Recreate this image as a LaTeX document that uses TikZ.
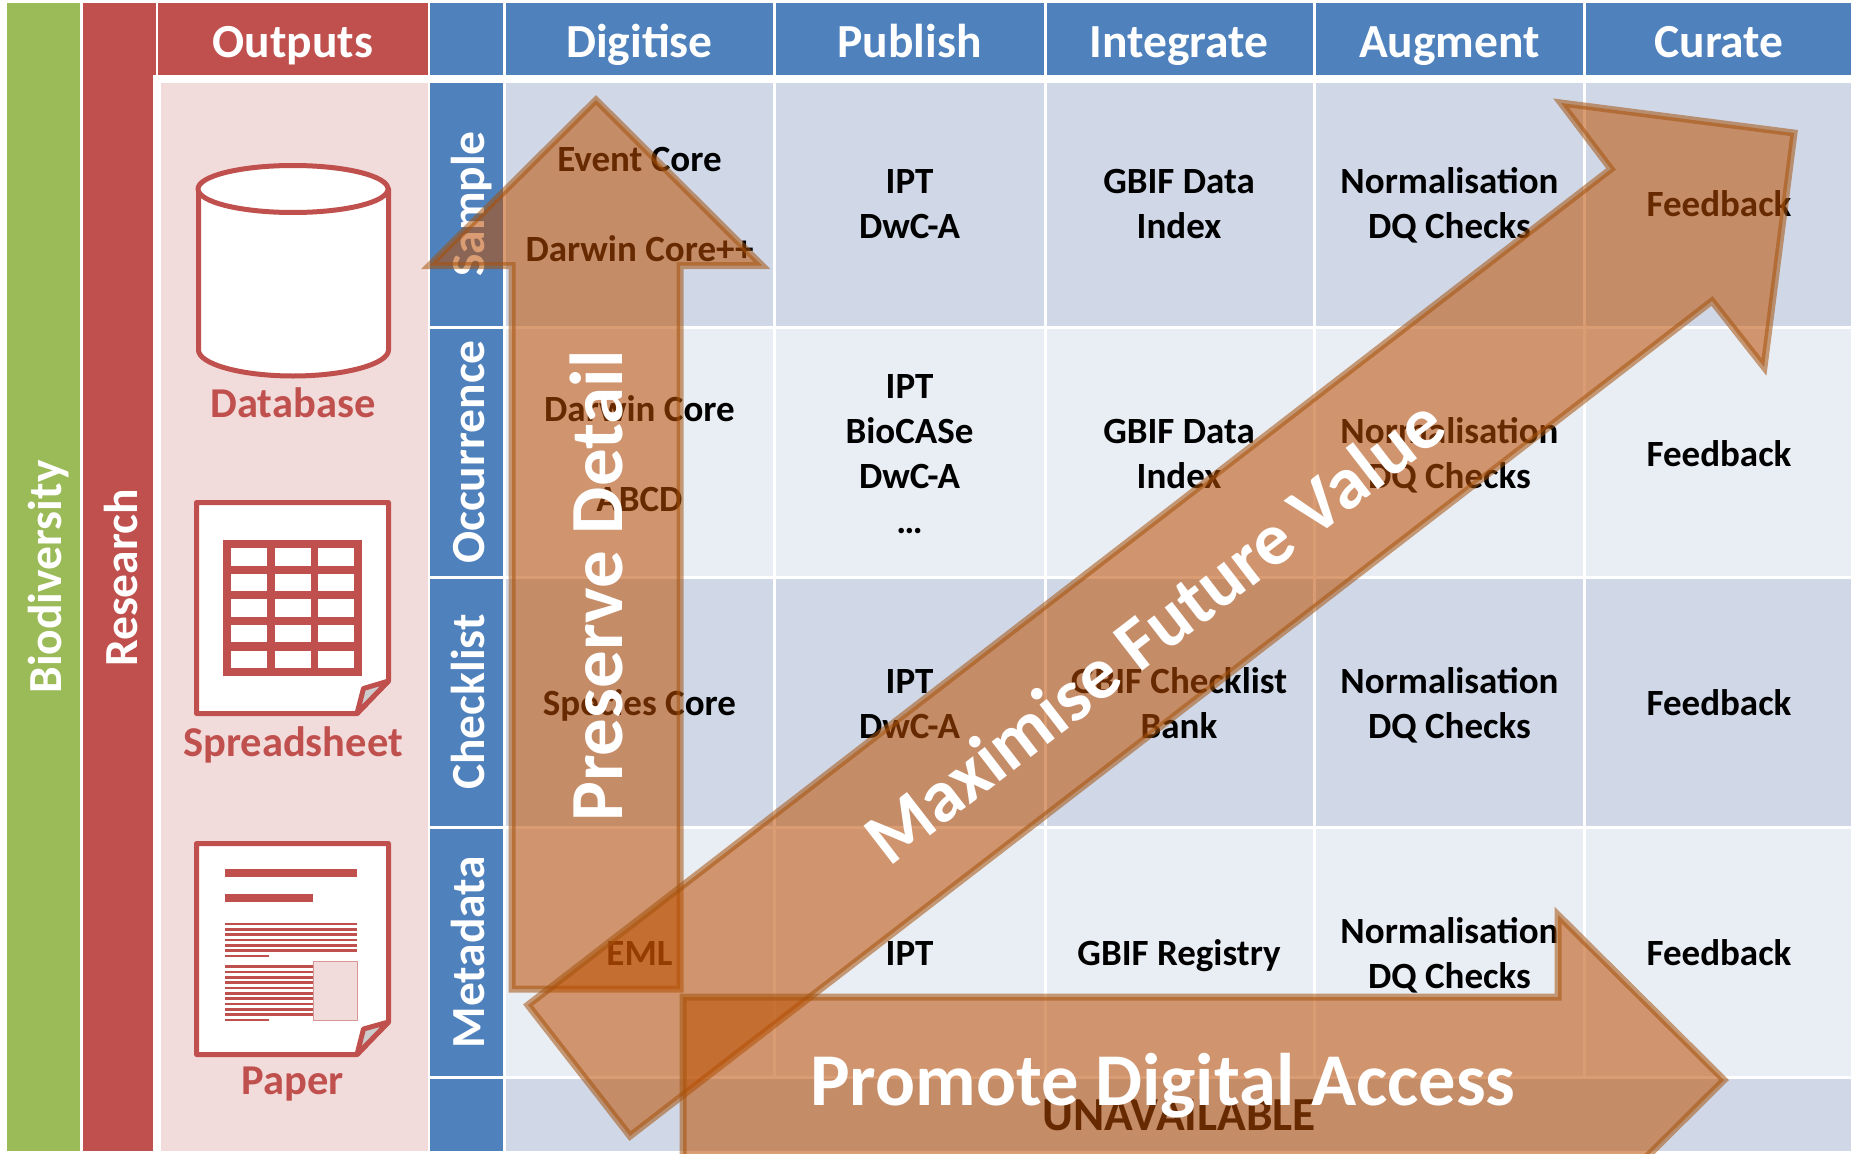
\documentclass[tikz,border=0pt]{standalone}
\usepackage{fontspec}
\setmainfont{Carlito}
\definecolor{cblue}{HTML}{4F81BD}
\definecolor{cred}{HTML}{C0504D}
\definecolor{cgreen}{HTML}{9BBB59}
\definecolor{cpink}{HTML}{F2DCDB}
\definecolor{rowa}{HTML}{D0D8E8}
\definecolor{rowb}{HTML}{E9EDF4}
\definecolor{afill}{HTML}{BC4E00}
\definecolor{aline}{HTML}{A4520C}
\definecolor{foldgray}{HTML}{CCCCCC}
\definecolor{imgline}{HTML}{D99694}
\tikzset{
  hdr/.style={text=white,anchor=base,font=\bfseries\fontsize{47.5}{50}\selectfont,inner sep=0pt},
  side/.style={text=white,rotate=90,anchor=base,font=\bfseries\fontsize{47.5}{50}\selectfont,inner sep=0pt},
  cell/.style={text=black,align=center,font=\bfseries\fontsize{37}{45}\selectfont,inner sep=0pt},
  iconlabel/.style={text=cred,anchor=base,font=\bfseries\fontsize{42.5}{45}\selectfont,inner sep=0pt},
  arrowshape/.style={fill=afill,draw=aline,fill opacity=.55,draw opacity=.55,line width=7pt,miter limit=10},
  arrowtext/.style={text=white,inner sep=0pt},
  icon/.style={draw=cred,fill=white,line width=5pt,line join=round},
  foldmark/.style={draw=cred,fill=foldgray,line width=5pt,line join=round},
  redbar/.style={fill=cred},
}
\begin{document}
\begin{tikzpicture}[x=1pt,y=-1pt]
\useasboundingbox (0,0) rectangle (1851,1153);
\fill[white] (0,0) rectangle (1851,1153);
% side bands
\fill[cgreen] (7,3) rectangle (80,1151);
\fill[cred] (83,3) rectangle (156,75);
\fill[cred] (83,75) rectangle (153,1151);
\fill[cred] (158,3) rectangle (428,75);
\fill[cpink] (161,83) rectangle (428,1151);
% header blues
\foreach \a/\b in {430/503,506/773,775.5/1044,1046.5/1313,1315.5/1583,1585.5/1851}{
  \fill[cblue] (\a,3) rectangle (\b,75);
}
% row labels and cells
\foreach \t/\u in {83/326,328.5/576,578.5/826,828.5/1076,1078.5/1151}{
  \fill[cblue] (430,\t) rectangle (503,\u);
}
\foreach \t/\u/\c in {83/326/rowa,328.5/576/rowb,578.5/826/rowa,828.5/1076/rowb}{
  \foreach \a/\b in {506/773,775.5/1044,1046.5/1313,1315.5/1583,1585.5/1851}{
    \fill[\c] (\a,\t) rectangle (\b,\u);
  }
}
\fill[rowa] (506,1078.5) rectangle (1851,1151);
% headers
\node[hdr] (hOutputs) at (293,58) {Outputs};
\node[hdr] (hDigitise) at (639.5,58) {Digitise};
\node[hdr] (hPublish) at (909.5,58) {Publish};
\node[hdr] (hIntegrate) at (1179,58) {Integrate};
\node[hdr] (hAugment) at (1449.5,58) {Augment};
\node[hdr] (hCurate) at (1719,58) {Curate};
\node[side] (sBio) at (61,577) {Biodiversity};
\node[side] (sRes) at (137,578) {Research};
\node[side] (sSample) at (484,204) {Sample};
\node[side] (sOcc) at (484,452) {Occurrence};
\node[side] (sCheck) at (484,702) {Checklist};
\node[side] (sMeta) at (484,952) {Metadata};
% database icon
\path[icon] (198.5,189) -- (198.5,350) .. controls (198.5,364) and (241,376) .. (293,376) .. controls (345,376) and (388.5,364) .. (388.5,350) -- (388.5,189) -- cycle;
\path[icon] (293,189) ellipse[x radius=95,y radius=23.5];
\node[iconlabel] (lDb) at (293,417) {Database};
% spreadsheet icon
\path[icon] (196.5,502.5) -- (388.5,502.5) -- (388.5,681) -- (357,713.5) -- (196.5,713.5) -- cycle;
\path[foldmark] (357,713.5) -- (363.5,688.5) -- (388.5,681) -- cycle;
\fill[cred] (223,540) rectangle (362,676);
\foreach \t/\u in {548/566,574/591,599/617,625/642,651/668}{
  \foreach \a/\b in {231/267,275/311,318/354}{
    \fill[white] (\a,\t) rectangle (\b,\u);
  }
}
\node[iconlabel] (lSheet) at (293,756) {Spreadsheet};
% paper icon
\path[icon] (196.5,843.5) -- (388.5,843.5) -- (388.5,1022) -- (357,1054.5) -- (196.5,1054.5) -- cycle;
\path[foldmark] (357,1054.5) -- (363.5,1029) -- (388.5,1022) -- cycle;
\fill[redbar] (225,869) rectangle (357,877);
\fill[redbar] (225,894) rectangle (313,902);
\foreach \y in {924,929.3,934.7,940,945.3,950.7}{
  \fill[redbar] (225,\y-1.3) rectangle (357,\y+1.3);
}
\fill[redbar] (225,954.7) rectangle (269,957.3);
\foreach \y in {966.7,972,977.3,982.7,988,993.3,998.7,1004,1009.3,1014.7}{
  \fill[redbar] (225,\y-1.3) rectangle (313,\y+1.3);
}
\fill[redbar] (225,1018.7) rectangle (269,1021.3);
\path[fill=cpink,draw=imgline,line width=1pt] (313,961) rectangle (357,1020);
\node[iconlabel] (lPaper) at (293,1094.5) {Paper};
% cell texts
\node[cell] (c11) at (639.5,207) {\strut Event Core\\[45pt]\strut Darwin Core++};
\node[cell] (c12) at (909.5,207) {\strut IPT\\\strut DwC-A};
\node[cell] (c13) at (1179,207) {\strut GBIF Data\\\strut Index};
\node[cell] (c14) at (1449.5,207) {\strut Normalisation\\\strut DQ Checks};
\node[cell] (c15) at (1719,207) {\strut Feedback};
\node[cell] (c21) at (639.5,457) {\strut Darwin Core\\[45pt]\strut ABCD};
\node[cell] (c22) at (909.5,457) {\strut IPT\\\strut BioCASe\\\strut DwC-A\\\strut …};
\node[cell] (c23) at (1179,457) {\strut GBIF Data\\\strut Index};
\node[cell] (c24) at (1449.5,457) {\strut Normalisation\\\strut DQ Checks};
\node[cell] (c25) at (1719,457) {\strut Feedback};
\node[cell] (c31) at (639.5,706) {\strut Species Core};
\node[cell] (c32) at (909.5,707) {\strut IPT\\\strut DwC-A};
\node[cell] (c33) at (1179,707) {\strut GBIF Checklist\\\strut Bank};
\node[cell] (c34) at (1449.5,707) {\strut Normalisation\\\strut DQ Checks};
\node[cell] (c35) at (1719,706) {\strut Feedback};
\node[cell] (c41) at (639.5,956) {\strut EML};
\node[cell] (c42) at (909.5,956) {\strut IPT};
\node[cell] (c43) at (1179,956) {\strut GBIF Registry};
\node[cell] (c44) at (1449.5,956.5) {\strut Normalisation\\\strut DQ Checks};
\node[cell] (c45) at (1719,956) {\strut Feedback};
\node[cell,anchor=base,font=\bfseries\fontsize{47.4}{50}\selectfont] (c5) at (1179,1130) {UNAVAILABLE};
% arrows
\begin{scope}
\clip (0,0) rectangle (1851,1153);
\path[arrowshape] (596,100) -- (762,265.5) -- (680,265.5) -- (680,989) -- (512,989) -- (512,265.5) -- (429.5,265.5) -- cycle;
\path[arrowshape] (528,1005) -- (1611,169) -- (1561,103) -- (1794,133) -- (1764,367) -- (1712,301) -- (630,1136) -- cycle;
\path[arrowshape] (683,997) -- (1558,997) -- (1558,915) -- (1724,1080) -- (1558,1245) -- (1558,1163) -- (683,1163) -- cycle;
\end{scope}
\node[arrowtext,rotate=90,anchor=base,font=\bfseries\fontsize{75}{78}\selectfont] (tPreserve) at (622,586) {Preserve Detail};
\node[arrowtext,rotate=37.7,font=\bfseries\fontsize{74.5}{76}\selectfont] (tMax) at (1154,630) {Maximise Future Value};
\node[arrowtext,anchor=base,font=\bfseries\fontsize{74.5}{78}\selectfont] (tPromote) at (1163,1105) {Promote Digital Access};
\end{tikzpicture}
\end{document}
